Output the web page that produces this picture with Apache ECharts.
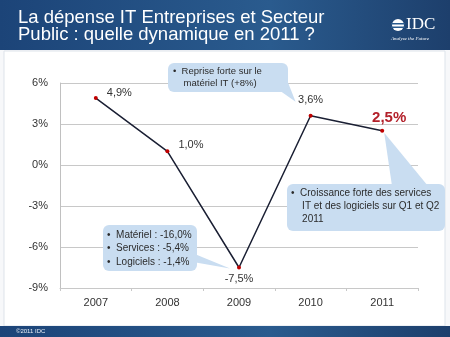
<!DOCTYPE html>
<html><head><meta charset="utf-8">
<script src="https://cdn.jsdelivr.net/npm/echarts@6/dist/echarts.min.js"></script>
<style>html,body{margin:0;padding:0;background:#fff}#c{width:450px;height:337px}</style>
</head><body><div id="c"></div>
<script>
var categories = ['2007','2008','2009','2010','2011'];
var growth = [4.9, 1.0, -7.5, 3.6, 2.5];
var labelTexts = ['4,9%','1,0%','-7,5%','3,6%','2,5%'];
var yTicks = {min: -9, max: 6, interval: 3};
var titleLines = ['La dépense IT Entreprises et Secteur', 'Public : quelle dynamique en 2011 ?'];
var note1 = ['•  Reprise forte sur le', '    matériel IT (+8%)'];
var note2 = ['•  Croissance forte des services', '    IT et des logiciels sur Q1 et Q2', '    2011'];
var note3 = ['•  Matériel : -16,0%', '•  Services : -5,4%', '•  Logiciels : -1,4%'];

var chart = echarts.init(document.getElementById('c'));
var F = 'Liberation Sans, Arial, sans-serif';
var labelPos = [
  {position:'right', offset:[4,-5]},
  {position:'right', offset:[4,-6]},
  {position:'bottom', distance:4},
  {position:'top', distance:8},
  {position:'top', distance:3, offset:[7,0], color:'#b3202a', fontSize:15, fontWeight:'bold'}
];
var seriesData = growth.map(function(v,i){
  var lp = labelPos[i];
  return {value:v, label: Object.assign({show:true, formatter: labelTexts[i]}, lp)};
});
chart.setOption({
  backgroundColor:'#f7f8fa',
  animation:false,
  grid:{left:60, right:32, top:83, bottom:49},
  xAxis:[
    {type:'category', data:categories, position:'bottom',
     axisLine:{show:false}, axisTick:{show:false},
     axisLabel:{color:'#333', fontSize:11, fontFamily:F, margin:9}},
    {type:'category', data:categories, position:'bottom',
     axisLine:{onZero:true, lineStyle:{color:'#c8c8c8'}},
     axisTick:{show:true, length:3, lineStyle:{color:'#c8c8c8'}},
     axisLabel:{show:false}}
  ],
  yAxis:{type:'value', min:yTicks.min, max:yTicks.max, interval:yTicks.interval,
    axisLine:{show:true, lineStyle:{color:'#c0c0c0'}}, axisTick:{show:false},
    splitLine:{lineStyle:{color:'#c8c8c8'}},
    axisLabel:{formatter:'{value}%', color:'#333', fontSize:11, fontFamily:F, margin:12}},
  series:[{type:'line', data:seriesData, xAxisIndex:1,
    lineStyle:{color:'#1a1f33', width:1.5},
    itemStyle:{color:'#c00000'}, symbol:'circle', symbolSize:4,
    label:{color:'#333', fontSize:11, fontFamily:F}, z:5}]
});

function px(i){ return chart.convertToPixel({seriesIndex:0}, [i, growth[i]]); }
var p2009 = px(2), p2010 = px(3), p2011 = px(4);
var boxFill = '#c9ddf1';
function textBlock(x,y,lines,lh,fs){
  return {type:'text', left:x, top:y, z:20, style:{text:lines.join('\n'), fill:'#2b2b2b', font:fs+'px '+F, lineHeight:lh}};
}
var grad = function(){ return new echarts.graphic.LinearGradient(0,0,1,0,[{offset:0,color:'#1c4478'},{offset:0.6,color:'#2a5b8e'},{offset:1,color:'#1d3f6c'}]); };
var graphics = [
  {type:'rect', shape:{x:4,y:51,width:441,height:275}, style:{fill:'#ffffff', stroke:'#dde3ea', lineWidth:1}, z:-10, silent:true},
  {type:'rect', shape:{x:0,y:0,width:450,height:50}, z:-5, style:{fill:grad()}},
  {type:'text', left:18, top:8, z:10, style:{text:titleLines.join('\n'), fill:'#ffffff', font:'18.5px '+F, lineHeight:17.5, shadowColor:'rgba(0,0,0,0.5)', shadowBlur:2, shadowOffsetX:1, shadowOffsetY:1}},
  {type:'circle', shape:{cx:398, cy:25, r:6}, style:{fill:'#ffffff'}, z:10},
  {type:'rect', shape:{x:391, y:23, width:14, height:1.5}, style:{fill:'#2a5b8e'}, z:11},
  {type:'rect', shape:{x:391, y:26.5, width:14, height:1.5}, style:{fill:'#2a5b8e'}, z:11},
  {type:'text', left:406, top:16, z:10, style:{text:'IDC', fill:'#ffffff', font:'17px Liberation Serif, serif'}},
  {type:'text', left:391, top:36, z:10, style:{text:'Analyze the Future', fill:'#ffffff', font:'italic 5px Liberation Serif, serif'}},
  {type:'rect', shape:{x:0,y:326,width:450,height:11}, z:-5, style:{fill:grad()}},
  {type:'text', left:16, top:328, z:10, style:{text:'©2011 IDC', fill:'#e8eef5', font:'6px '+F}},
  // callout 1
  {type:'polygon', z:18, shape:{points:[[276,88],[287,80],[p2010[0]-15,p2010[1]-14]]}, style:{fill:boxFill}},
  {type:'rect', z:18, shape:{x:168,y:63,width:120,height:29,r:6}, style:{fill:boxFill}},
  textBlock(173,66,note1,11.5,9.5),
  // callout 2
  {type:'polygon', z:18, shape:{points:[[392,186],[428,186],[p2011[0]+2,p2011[1]+2]]}, style:{fill:boxFill}},
  {type:'rect', z:18, shape:{x:287,y:184,width:158,height:47,r:6}, style:{fill:boxFill}},
  textBlock(291,187,note2,13,10),
  // callout 3
  {type:'polygon', z:18, shape:{points:[[185,250],[193,262],[p2009[0]-9,p2009[1]+1]]}, style:{fill:boxFill}},
  {type:'rect', z:18, shape:{x:103,y:225,width:94,height:46,r:6}, style:{fill:boxFill}},
  textBlock(107,228,note3,13.5,10)
];
chart.setOption({graphic:graphics});
</script></body></html>
